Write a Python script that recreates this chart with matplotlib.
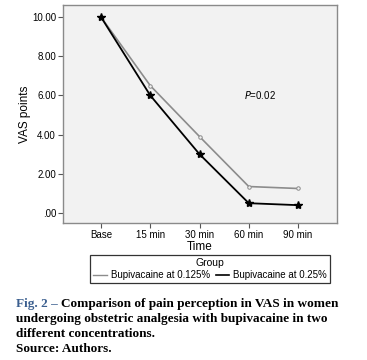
import matplotlib
matplotlib.use('Agg')
import matplotlib.pyplot as plt
from matplotlib.lines import Line2D

# data
times = ['Base', '15 min', '30 min', '60 min', '90 min']
low_conc = [10.0, 6.5, 3.9, 1.35, 1.25]     # Bupivacaine at 0.125%
high_conc = [10.0, 6.0, 3.0, 0.5, 0.4]      # Bupivacaine at 0.25%
yticks = [0, 2, 4, 6, 8, 10]
ytick_labels = ['.00', '2.00', '4.00', '6.00', '8.00', '10.00']
group_labels = ['Bupivacaine at 0.125%', 'Bupivacaine at 0.25%']

plt.rcParams['font.family'] = ['Liberation Sans', 'DejaVu Sans']

fig = plt.figure(figsize=(3.67, 3.60), dpi=100)
ax = fig.add_axes([63/367, 1-223/360, (337-63)/367, (223-5)/360])
ax.set_facecolor('#f2f2f2')

x = list(range(len(times)))
ax.plot(x, low_conc, color='#8c8c8c', lw=1.2, marker='o', ms=2.5,
        mfc='#f2f2f2', mec='#8c8c8c', mew=0.7)
ax.plot(x, high_conc, color='black', lw=1.3, marker='*', ms=6)

ax.set_xlim(-0.77, 4.79)
ax.set_ylim(-0.51, 10.61)
ax.set_xticks(x)
ax.set_xticklabels(times)
ax.set_yticks(yticks)
ax.set_yticklabels(ytick_labels)
ax.tick_params(labelsize=7, length=3.5, width=0.8, color='#555555', pad=1.5)
for s in ax.spines.values():
    s.set_color('#8a8a8a')
    s.set_linewidth(1.0)

ax.set_ylabel('VAS points', fontsize=8.5, labelpad=1)
ax.set_xlabel('Time', fontsize=8.5, labelpad=1)
ax.text(3.23, 6.02, '$P$=0.02', fontsize=7, ha='center', va='center')

handles = [Line2D([], [], color='#8c8c8c', lw=1.0),
           Line2D([], [], color='black', lw=1.2)]
leg = fig.legend(handles, group_labels, title='Group', ncol=2,
                 loc='center', bbox_to_anchor=(210/367, 1-269/360),
                 fontsize=7, title_fontsize=7.5, frameon=True, fancybox=False,
                 handlelength=1.4, handletextpad=0.4, columnspacing=0.6,
                 borderpad=0.35, borderaxespad=0, labelspacing=0.2)
leg.get_frame().set_edgecolor('black')
leg.get_frame().set_linewidth(0.9)

# caption under the chart
cap = dict(fontsize=9.5, fontweight='bold', family='Liberation Serif', va='baseline')
fig.canvas.draw()
r = fig.canvas.get_renderer()
t = fig.text(16/367, 1-307/360, 'Fig. 2 – ', color='#3b5f8f', **cap)
w = t.get_window_extent(renderer=r).width / fig.bbox.width
fig.text(16/367 + w, 1-307/360, 'Comparison of pain perception in VAS in women', **cap)
fig.text(16/367, 1-322/360, 'undergoing obstetric analgesia with bupivacaine in two', **cap)
fig.text(16/367, 1-337/360, 'different concentrations.', **cap)
fig.text(16/367, 1-352/360, 'Source: Authors.', **cap)

fig.savefig('out.png', dpi=100)
